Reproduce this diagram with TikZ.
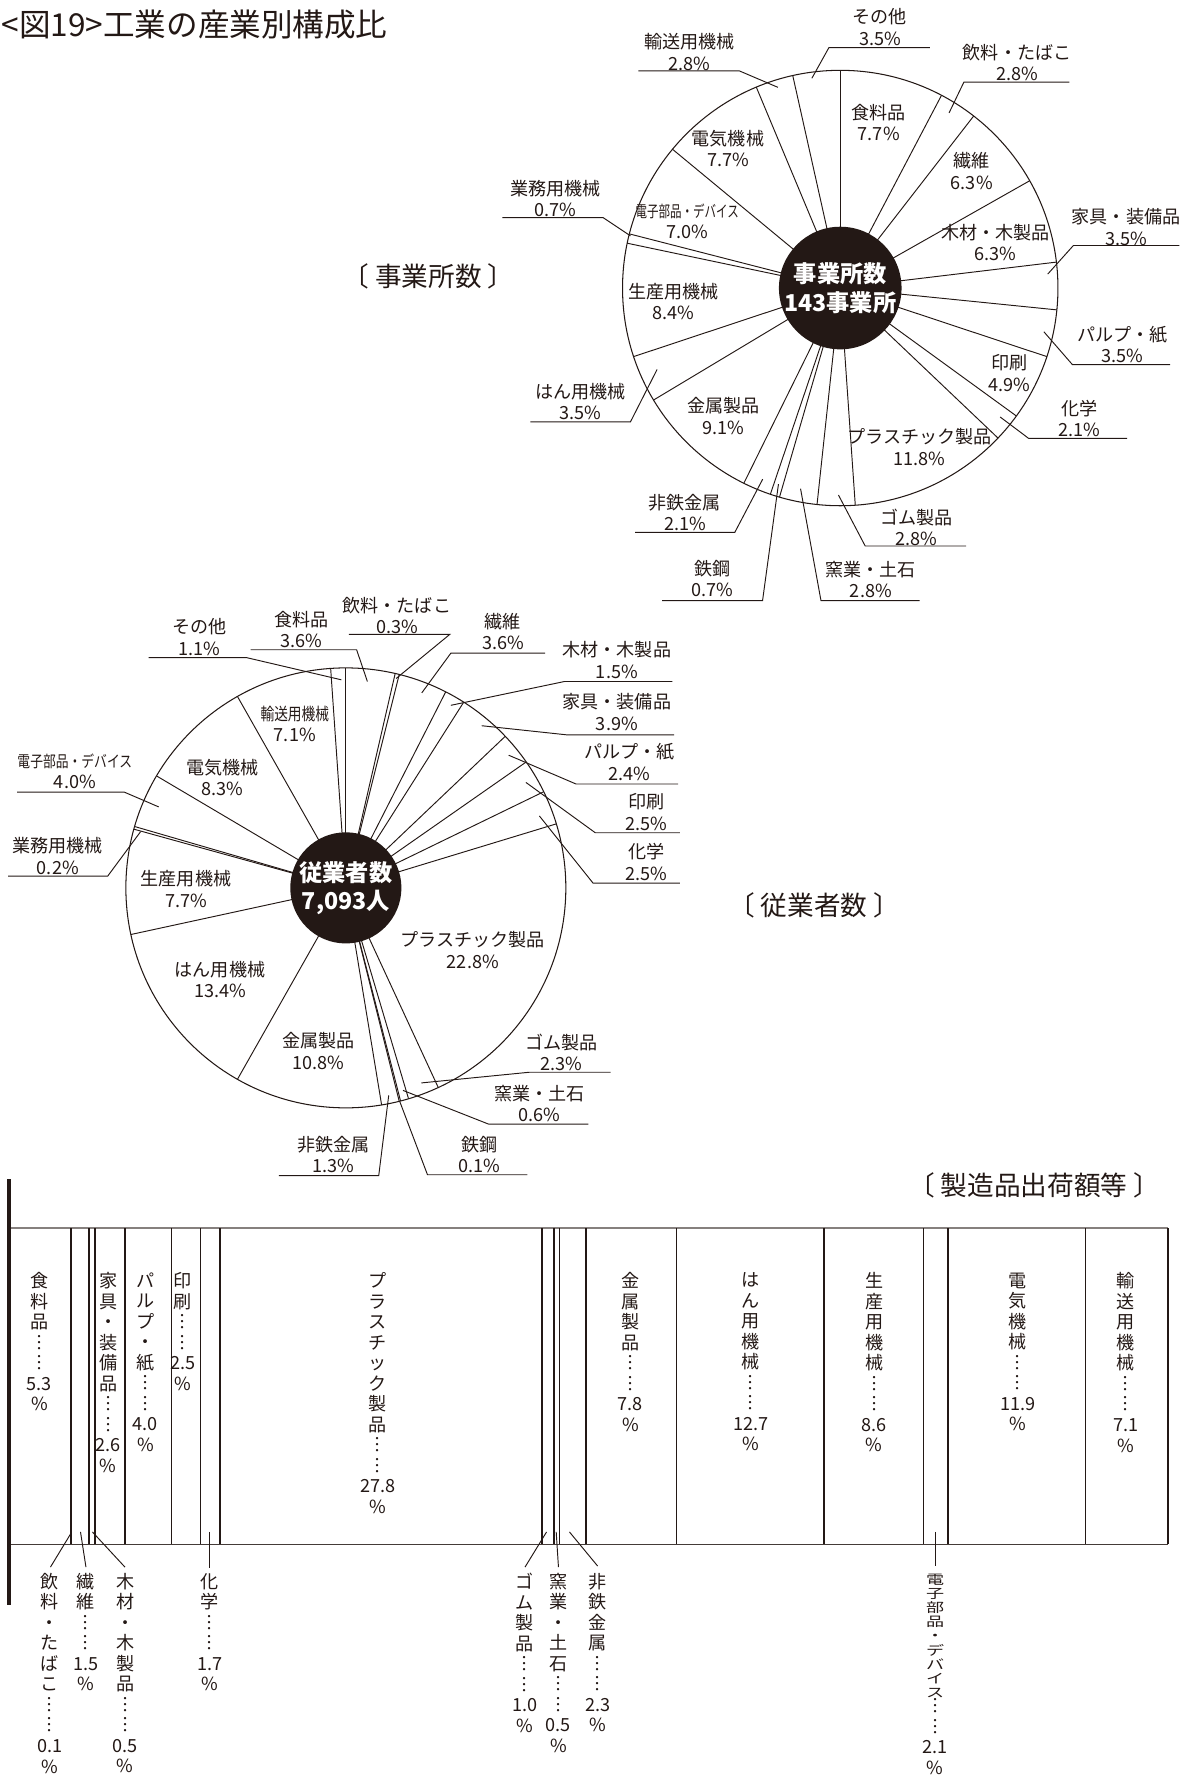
\documentclass[tikz,border=0pt]{standalone}
\usepackage{fontspec}
\usepackage{graphicx}
\setmainfont{Noto Sans CJK JP}
\definecolor{ink}{RGB}{35,24,21}
\newcommand{\cond}[2]{\scalebox{#1}[1]{#2}}
\newcommand{\brk}[1]{〔\hspace{0.22em}#1\hspace{0.22em}〕}
\begin{document}
\begin{tikzpicture}[x=0.5958pt,y=-0.5958pt,
  ln/.style={draw=ink,line width=0.5pt},
  rim/.style={draw=ink,line width=0.55pt},
  barln/.style={draw=ink,line width=0.8pt},
  lab/.style={align=center,inner sep=0pt,text=ink,font=\fontsize{9.5pt}{11.3pt}\selectfont},
  vt/.style={anchor=north,align=center,inner sep=0pt,text=ink,font=\fontsize{9.5pt}{10.78pt}\selectfont},
  sec/.style={inner sep=0pt,text=ink,font=\fontsize{14pt}{16pt}\selectfont},
  hub/.style={circle,fill=ink,draw=none,minimum size=58.4pt,inner sep=0pt,align=center,text=white,font=\bfseries\fontsize{12.2pt}{14.9pt}\selectfont}]
\useasboundingbox (0,0) rectangle (1049.3,1568);

% title and section labels
\node[anchor=west,inner sep=0pt,text=ink,font=\fontsize{16.6pt}{18pt}\selectfont] (title) at (1,22) {<図19>工業の産業別構成比};
\node[sec] (sec1) at (378,244) {\brk{事業所数}};
\node[sec] (sec2) at (718,798) {\brk{従業者数}};
\node[sec] (sec3) at (912,1045) {\brk{製造品出荷額等}};

% ---------- pie 1 ----------
\coordinate (c1) at (741,254);
\draw[rim] (c1) circle[radius=192];
\foreach \p in {0,7.7,10.5,16.8,23.1,26.6,30.1,35.0,37.1,48.9,51.7,54.5,55.2,57.3,66.4,69.9,78.3,79.0,86.0,93.7,96.5}
  \draw[ln] (c1) -- ++({3.6*\p-90}:192);
\node[hub] (hub1) at (c1) {事業所数\\143事業所};

\node[lab] (a01) at (775,108) {食料品\\7.7\%};
\node[lab] (a03) at (857,151) {繊維\\6.3\%};
\node[lab] (a04) at (878,214) {木材・木製品\\6.3\%};
\node[lab] (a07) at (890,329) {印刷\\4.9\%};
\node[lab] (a09) at (811,394) {プラスチック製品\\11.8\%};
\node[lab] (a14) at (638,367) {金属製品\\9.1\%};
\node[lab] (a16) at (594,266) {生産用機械\\8.4\%};
\node[lab] (a18) at (606,195) {{\cond{0.72}{\fontsize{8.4pt}{11.3pt}\selectfont 電子部品・デバイス}}\\7.0\%};
\node[lab] (a19) at (642,131) {電気機械\\7.7\%};

\node[lab] (a20) at (608,46) {輸送用機械\\2.8\%};
\node[lab] (a21) at (776,24) {その他\\3.5\%};
\node[lab] (a02) at (897,55) {飲料・たばこ\\2.8\%};
\node[lab] (a05) at (993,200) {家具・装備品\\3.5\%};
\node[lab] (a06) at (990,304) {パルプ・紙\\3.5\%};
\node[lab] (a08) at (952,369) {化学\\2.1\%};
\node[lab] (a10) at (808,465) {ゴム製品\\2.8\%};
\node[lab] (a11) at (768,511) {窯業・土石\\2.8\%};
\node[lab] (a12) at (628,510) {鉄鋼\\0.7\%};
\node[lab] (a13) at (604,452) {非鉄金属\\2.1\%};
\node[lab] (a15) at (512,354) {はん用機械\\3.5\%};
\node[lab] (a17) at (490,175) {業務用機械\\0.7\%};

\draw[ln] (563,62.5) -- (652,62.5) -- (686,77);
\draw[ln] (820,42) -- (731,42) -- (716,69);
\draw[ln] (943,72.5) -- (850,72.5) -- (837,99.5);
\draw[ln] (1040,216.5) -- (946.6,216.5) -- (924,241.7);
\draw[ln] (1032,321.5) -- (945.7,321.5) -- (920.6,292.6);
\draw[ln] (994,386.5) -- (907,386.5) -- (882,367.7);
\draw[ln] (852,481.5) -- (763,481.5) -- (739.4,436.5);
\draw[ln] (811,529.6) -- (724,529.6) -- (706,431);
\draw[ln] (584,529.6) -- (672.5,529.6) -- (686.5,427);
\draw[ln] (560,469.5) -- (648,469.5) -- (672.6,422.6);
\draw[ln] (467.7,372) -- (556,372) -- (579.5,325.8);
\draw[ln] (443,192) -- (532,192) -- (556,208);

% ---------- pie 2 ----------
\coordinate (c2) at (305,783);
\draw[rim] (c2) circle[radius=194];
\foreach \p in {0,3.6,3.9,7.5,9.0,12.9,15.3,17.8,20.3,43.1,45.4,46.0,46.1,47.4,58.2,71.6,79.3,79.5,83.5,91.8,98.9}
  \draw[ln] (c2) -- ++({3.6*\p-90}:194);
\node[hub] (hub2) at (c2) {従業者数\\7,093人};

\node[lab] (b20) at (260,638.5) {{\cond{0.8}{\fontsize{9pt}{11.3pt}\selectfont 輸送用機械}}\\7.1\%};
\node[lab] (b19) at (196,685.5) {電気機械\\8.3\%};
\node[lab] (b16) at (164,784) {生産用機械\\7.7\%};
\node[lab] (b15) at (194,864) {はん用機械\\13.4\%};
\node[lab] (b14) at (281,927) {金属製品\\10.8\%};
\node[lab] (b09) at (417,838) {プラスチック製品\\22.8\%};

\node[lab] (b21) at (176,562) {その他\\1.1\%};
\node[lab] (b01) at (266,555) {食料品\\3.6\%};
\node[lab] (b02) at (350,543) {飲料・たばこ\\0.3\%};
\node[lab] (b03) at (443.5,557) {繊維\\3.6\%};
\node[lab] (b04) at (544,582) {木材・木製品\\1.5\%};
\node[lab] (b05) at (544,628) {家具・装備品\\3.9\%};
\node[lab] (b06) at (555,672) {パルプ・紙\\2.4\%};
\node[lab] (b07) at (570,716) {印刷\\2.5\%};
\node[lab] (b08) at (570,760) {化学\\2.5\%};
\node[lab] (b18) at (66,680) {{\cond{0.8}{\fontsize{8.4pt}{11.3pt}\selectfont 電子部品・デバイス}}\\4.0\%};
\node[lab] (b17) at (51,755) {業務用機械\\0.2\%};
\node[lab] (b10) at (495,928) {ゴム製品\\2.3\%};
\node[lab] (b11) at (476,973) {窯業・土石\\0.6\%};
\node[lab] (b12) at (423,1018) {鉄鋼\\0.1\%};
\node[lab] (b13) at (294,1018) {非鉄金属\\1.3\%};

\draw[ln] (131,580) -- (217.7,580) -- (301,599.5);
\draw[ln] (221,573) -- (314.5,573) -- (324,601);
\draw[ln] (307.7,559.5) -- (396.6,559.5) -- (349.4,598.3);
\draw[ln] (480.8,576) -- (397.6,576) -- (372,611);
\draw[ln] (593,601) -- (497.8,601) -- (397.6,622);
\draw[ln] (594.5,648) -- (499.5,648) -- (424.8,640);
\draw[ln] (598,691.4) -- (508,691.4) -- (448.6,666);
\draw[ln] (599.6,734.4) -- (525,734.4) -- (463.8,690);
\draw[ln] (599.6,778.8) -- (523,778.8) -- (475.7,719.6);
\draw[ln] (15,698.5) -- (109.5,698.5) -- (140,711.6);
\draw[ln] (7.2,772.6) -- (95,772.6) -- (124,733.4);
\draw[ln] (538.5,945.6) -- (466.7,945.6) -- (371.6,955);
\draw[ln] (518.8,991.3) -- (430.8,991.3) -- (355.4,961.6);
\draw[ln] (465,1036) -- (377,1036) -- (352.4,971);
\draw[ln] (246,1036.7) -- (334,1036.7) -- (342.8,966);

% ---------- bar ----------
\draw[draw=ink!55,line width=0.6pt] (8,1083) -- (1030,1083);
\draw[draw=ink!85,line width=0.6pt] (8,1362) -- (1030,1362);
\foreach \p in {5.3,5.4,6.9,7.4,10.0,14.0,16.5,18.2,46.0,47.0,47.5,49.8,57.6,70.3,78.9,81.0,92.9,100}
  \draw[barln] ({8+10.22*\p},1083) -- ({8+10.22*\p},1362);
\draw[draw=ink,line width=1.7pt] (8,1040) -- (8,1415);

\node[vt] (v01) at (34.7,1122) {食\\料\\品\\︙\\︙\\5.3\\\%};
\node[vt] (v05) at (95.4,1122) {家\\具\\・\\装\\備\\品\\︙\\︙\\2.6\\\%};
\node[vt] (v06) at (128.3,1122) {パ\\ル\\プ\\・\\紙\\︙\\︙\\4.0\\\%};
\node[vt] (v07) at (161.3,1122) {印\\刷\\︙\\︙\\2.5\\\%};
\node[vt] (v09) at (333,1122) {プ\\ラ\\ス\\チ\\ッ\\ク\\製\\品\\︙\\︙\\27.8\\\%};
\node[vt] (v14) at (556,1122) {金\\属\\製\\品\\︙\\︙\\7.8\\\%};
\node[vt] (v15) at (662,1122) {は\\ん\\用\\機\\械\\︙\\︙\\12.7\\\%};
\node[vt] (v16) at (771,1122) {生\\産\\用\\機\\械\\︙\\︙\\8.6\\\%};
\node[vt] (v19) at (897.6,1122) {電\\気\\機\\械\\︙\\︙\\11.9\\\%};
\node[vt] (v20) at (993,1122) {輸\\送\\用\\機\\械\\︙\\︙\\7.1\\\%};

\node[vt] (v02) at (44,1387) {飲\\料\\・\\た\\ば\\こ\\︙\\︙\\0.1\\\%};
\node[vt] (v03) at (75.5,1387) {繊\\維\\︙\\︙\\1.5\\\%};
\node[vt] (v04) at (110.3,1387) {木\\材\\・\\木\\製\\品\\︙\\︙\\0.5\\\%};
\node[vt] (v08) at (185,1387) {化\\学\\︙\\︙\\1.7\\\%};
\node[vt] (v10) at (463,1387) {ゴ\\ム\\製\\品\\︙\\︙\\1.0\\\%};
\node[vt] (v11) at (492.5,1387) {窯\\業\\・\\土\\石\\︙\\︙\\0.5\\\%};
\node[vt] (v13) at (527,1387) {非\\鉄\\金\\属\\︙\\︙\\2.3\\\%};
\begin{scope}[shift={(824.8,1387.7)},yscale=0.72]
\node[vt,transform shape,font=\fontsize{9.5pt}{10.34pt}\selectfont] (v18a) at (0,0) {電\\子\\部\\品\\・\\デ\\バ\\イ\\ス};
\end{scope}
\node[vt] (v18b) at (824.8,1497.5) {︙\\︙\\2.1\\\%};

\draw[ln] (62.7,1352) -- (44.5,1382);
\draw[ln] (71,1351) -- (75.8,1382);
\draw[ln] (81.5,1351) -- (110.2,1382);
\draw[ln] (185,1351) -- (185,1383);
\draw[ln] (482,1351) -- (463,1382);
\draw[ln] (490.5,1351) -- (492.5,1382);
\draw[ln] (502.2,1351) -- (527,1381);
\draw[ln] (824.8,1351) -- (824.8,1381);
\end{tikzpicture}
\end{document}
